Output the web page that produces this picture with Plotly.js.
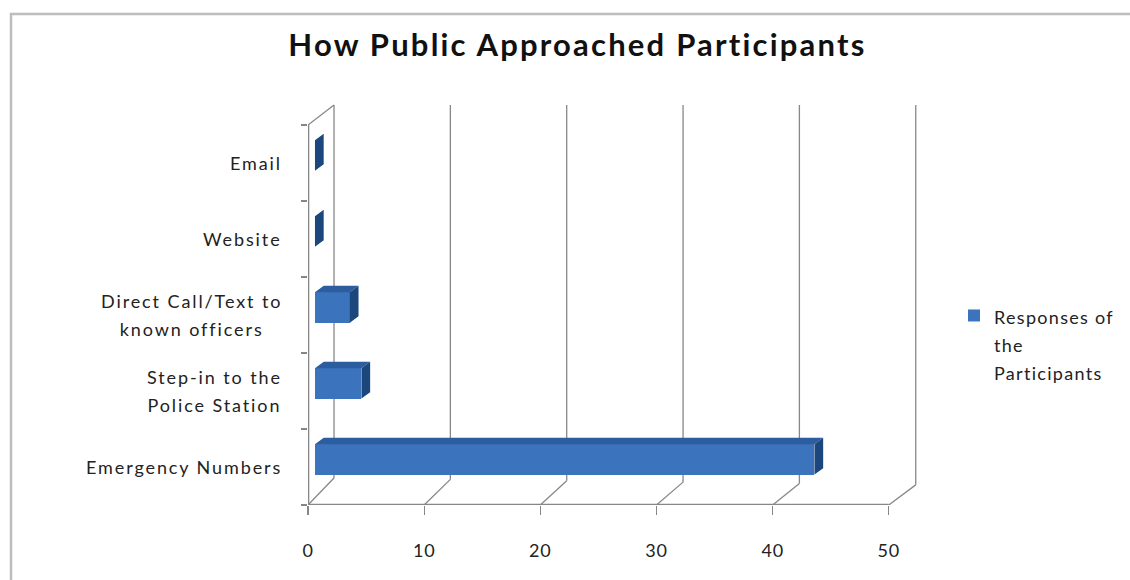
<!DOCTYPE html>
<html>
<head>
<meta charset="utf-8">
<script src="https://cdn.plot.ly/plotly-3.0.1.min.js"></script>
<style>
html,body{margin:0;padding:0;background:#fff}
.annotation-text {letter-spacing: 1.9px}
.legendtext {letter-spacing: 1.3px}
.gtitle {letter-spacing: 2.2px}
.xtick text {letter-spacing: 0.8px}
</style>
</head>
<body>
<div id="chart" style="width:1130px;height:580px"></div>
<script>
// ---- data ----
const categories = ['Emergency Numbers', 'Step-in to the<br>Police Station', 'Direct Call/Text to<br>known officers', 'Website', 'Email'];
const responses = [43, 4, 3, 0, 0];
const xTicks = [0, 10, 20, 30, 40, 50];
const seriesName = 'Responses of<br>the<br>Participants';
const chartTitle = 'How Public Approached Participants';

// ---- layout geometry (pixels) ----
const W = 1130, H = 580;
const M = {l: 308, r: 211, t: 100, b: 75};
const X_RANGE = [0, 52.6];
const Y_RANGE = [-0.5, 4.83];
const plotW = W - M.l - M.r, plotH = H - M.t - M.b;

// ---- pseudo-3D projection (data units) ----
const FRONT_BOTTOM = -0.5, FRONT_TOP = 4.5;
const wallDX = t => 2.24 + 0.08 * t / 50;      // depth of the walls along x
const floorDY = t => 0.355 - 0.09 * t / 50;    // depth of the floor along y
const TOP_DY = 0.263;                          // depth at the top of the side wall
const BAR_SHIFT_X = 0.6, BAR_SHIFT_Y = 0.1;    // front face of the bars sits inside the box
const BAR_DX = 0.75, BAR_DY = 0.085;           // bar thickness in depth
const BAR_HALF = 0.2;

const FRONT = '#3c73bd', TOP = '#2c5e9f', SIDE = '#1c477c';
const GRID = '#878787';

// walls, floor and gridlines
const shapes = [];
const seg = (x0, y0, x1, y1, w) => shapes.push({type: 'line', xref: 'x', yref: 'y', layer: 'below',
  x0, y0, x1, y1, line: {color: GRID, width: w || 1.3}});
xTicks.forEach(t => {
  const bx = t + wallDX(t);
  seg(bx, FRONT_BOTTOM + floorDY(t), bx, FRONT_TOP + TOP_DY);          // back wall gridline
  seg(t, FRONT_BOTTOM, bx, FRONT_BOTTOM + floorDY(t));                 // floor gridline
});
seg(xTicks[0], FRONT_BOTTOM, xTicks[xTicks.length - 1], FRONT_BOTTOM, 2.6); // front floor edge
seg(0, FRONT_BOTTOM, 0, FRONT_TOP, 2.6);                                  // side wall front edge
seg(0, FRONT_TOP, wallDX(0), FRONT_TOP + TOP_DY);                         // side wall top edge

// chart frame (paper coordinates computed from pixels)
const px2paperX = p => (p - M.l) / plotW;
const px2paperY = p => (H - M.b - p) / plotH;
shapes.push({type: 'rect', xref: 'paper', yref: 'paper', layer: 'above',
  x0: px2paperX(11), x1: px2paperX(W + 10), y0: px2paperY(H + 10), y1: px2paperY(14),
  line: {color: '#bdbdbd', width: 2.5}});

// bar faces built from the values
const yPos = categories.map((_, i) => i + BAR_SHIFT_Y);
const topX = [], topY = [], endX = [], endY = [];
responses.forEach((v, i) => {
  const y0 = yPos[i] - BAR_HALF, y1 = yPos[i] + BAR_HALF;
  const x0 = BAR_SHIFT_X, x1 = BAR_SHIFT_X + v;
  if (v > 0) {
    topX.push(x0, x1, x1 + BAR_DX, x0 + BAR_DX, x0, null);
    topY.push(y1, y1, y1 + BAR_DY, y1 + BAR_DY, y1, null);
  }
  endX.push(x1, x1, x1 + BAR_DX, x1 + BAR_DX, x1, null);
  endY.push(y0, y1, y1 + BAR_DY, y0 + BAR_DY, y0, null);
});

// multi-line text: glyphs at 18px, line pitch taken from a larger element size
const GLYPH = 18;
const sized = s => s.split('<br>').map(l => `<span style="font-size:${GLYPH}px">${l}</span>`).join('<br>');

const traces = [
  {type: 'bar', orientation: 'h', y: yPos, x: responses, base: BAR_SHIFT_X, width: 2 * BAR_HALF,
   name: sized(seriesName), marker: {color: FRONT, line: {width: 0}}, hoverinfo: 'skip'},
  {type: 'scatter', mode: 'lines', x: topX, y: topY, fill: 'toself', fillcolor: TOP,
   line: {width: 0, color: TOP}, showlegend: false, hoverinfo: 'skip'},
  {type: 'scatter', mode: 'lines', x: endX, y: endY, fill: 'toself', fillcolor: SIDE,
   line: {width: 0, color: SIDE}, showlegend: false, hoverinfo: 'skip'}
];

const textFont = {family: 'Lato, sans-serif', size: 21.5, color: '#222'};
const annotations = categories.map((c, i) => ({
  xref: 'paper', yref: 'y', x: 0, y: i, xshift: -24, xanchor: 'right', yanchor: 'middle',
  text: sized(c), showarrow: false, align: 'center', font: textFont
}));

const layout = {
  width: W, height: H,
  margin: M,
  paper_bgcolor: '#fff', plot_bgcolor: 'rgba(0,0,0,0)',
  title: {text: chartTitle, xref: 'container', yref: 'container', x: 0.511, y: 1 - 45 / H,
          xanchor: 'center', yanchor: 'middle',
          font: {family: 'Lato, sans-serif', size: 31, weight: 'bold', color: '#111'}},
  xaxis: {range: X_RANGE, tickvals: xTicks, ticktext: xTicks.map(String), ticks: 'outside', ticklen: 9,
          tickcolor: GRID, tickwidth: 1.3, showline: false, showgrid: false, zeroline: false,
          ticklabelstandoff: 20, tickfont: {family: 'Lato, sans-serif', size: 18, color: '#222'},
          fixedrange: true},
  yaxis: {range: Y_RANGE, tickvals: [-0.5, 0.5, 1.5, 2.5, 3.5, 4.5], ticks: 'outside', ticklen: 6,
          tickcolor: GRID, tickwidth: 1.2, showticklabels: false, showline: false, showgrid: false,
          zeroline: false, fixedrange: true},
  showlegend: true,
  legend: {xref: 'container', yref: 'container', x: 954 / W, y: 1 - 295 / H, xanchor: 'left', yanchor: 'top',
           valign: 'top', font: textFont, bgcolor: 'rgba(0,0,0,0)'},
  shapes, annotations, bargap: 0
};

Plotly.newPlot('chart', traces, layout, {displayModeBar: false, staticPlot: true});
</script>
</body>
</html>
